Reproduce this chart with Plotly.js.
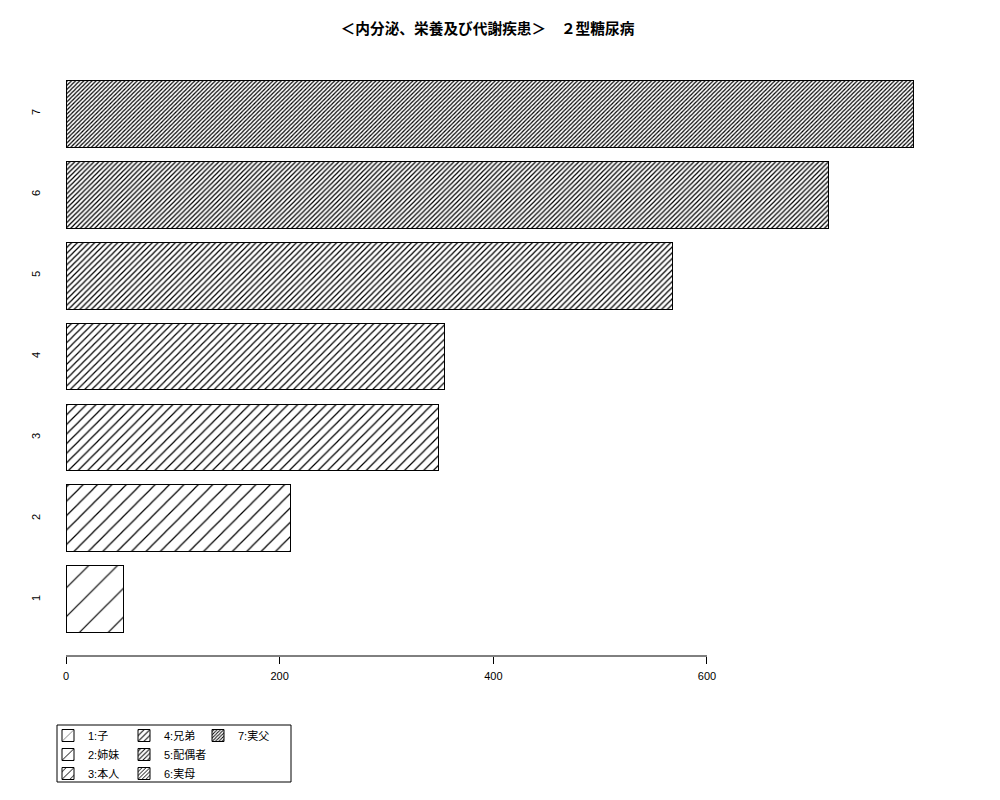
<!DOCTYPE html>
<html>
<head>
<meta charset="utf-8">
<script src="https://cdn.plot.ly/plotly-3.0.1.min.js"></script>
<style>
  body { margin: 0; background: #fff; }
  #chart { width: 1000px; height: 800px; }
</style>
</head>
<body>
<div id="chart"></div>
<script>
// data
const categories = ['1', '2', '3', '4', '5', '6', '7'];
const counts = [54, 210, 349, 354, 568, 714, 793];
const relationLabels = ['1:子', '2:姉妹', '3:本人', '4:兄弟', '5:配偶者', '6:実母', '7:実父'];
const xTicks = [0, 200, 400, 600];

// hatch density (lines per inch, like R's density=) -> tile size in px
const hatchDensity = [5, 10, 15, 20, 25, 30, 35];
const legendOf = ['legend', 'legend', 'legend', 'legend2', 'legend2', 'legend2', 'legend3'];

const baseFont = 'Liberation Sans, Arial, Noto Sans CJK JP, sans-serif';

var traces = [];
for (let i = 0; i < categories.length; ++i) {
    const tile = 72 / hatchDensity[i] * Math.SQRT2;
    traces.push({
        type: 'bar',
        orientation: 'h',
        x: [counts[i]],
        y: [categories[i]],
        name: relationLabels[i],
        legend: legendOf[i],
        marker: {
            color: 'white',
            line: { color: 'black', width: 1 },
            pattern: {
                shape: '/',
                size: tile,
                solidity: Math.min(1.2 / tile, 0.5),
                fgcolor: 'black',
                bgcolor: 'white'
            }
        },
        hoverinfo: 'x+name'
    });
}

// plot area in pixels, used to place the legend box
const plotL = 50, plotR = 946, plotT = 57, plotB = 656;
const px = (v) => (v - plotL) / (plotR - plotL);
const py = (v) => (plotB - v) / (plotB - plotT);

const legendStyle = (x) => ({
    x: px(x), xanchor: 'left',
    y: py(721), yanchor: 'top',
    orientation: 'v',
    traceorder: 'normal',
    bgcolor: 'rgba(0,0,0,0)',
    borderwidth: 0,
    font: { family: baseFont, size: 11, color: 'black' }
});

var layout = {
    width: 1000,
    height: 800,
    margin: { l: plotL, r: 1000 - plotR, t: plotT, b: 800 - plotB, autoexpand: false },
    paper_bgcolor: 'white',
    plot_bgcolor: 'white',
    barmode: 'stack',
    bargap: 0.173,
    showlegend: true,
    title: {
        text: '＜内分泌、栄養及び代謝疾患＞　２型糖尿病',
        font: { family: 'Noto Sans CJK JP, sans-serif', size: 14.7, color: 'black', weight: 'bold' },
        xref: 'container', x: 0.4875, xanchor: 'center',
        yref: 'container', y: 1 - 29 / 800, yanchor: 'middle'
    },
    xaxis: {
        range: [(plotL - 66) / 1.0683, (plotR - 66) / 1.0683],
        tickvals: xTicks,
        ticktext: xTicks.map(String),
        ticks: 'outside',
        ticklen: 7,
        tickwidth: 1,
        tickcolor: 'black',
        ticklabelstandoff: 3,
        showline: false,
        showgrid: false,
        zeroline: false,
        tickfont: { family: baseFont, size: 11, color: 'black' },
        fixedrange: true
    },
    yaxis: {
        type: 'category',
        categoryorder: 'array',
        categoryarray: categories,
        range: [-0.698, 6.698],
        ticks: '',
        showline: false,
        showgrid: false,
        zeroline: false,
        tickangle: -90,
        ticklabelstandoff: 7,
        tickfont: { family: baseFont, size: 11, color: 'black' },
        fixedrange: true
    },
    legend: legendStyle(48),
    legend2: legendStyle(124),
    legend3: legendStyle(198),
    shapes: [
        // R style axis line, only across the tick range
        { type: 'line', xref: 'x', yref: 'paper', x0: xTicks[0], x1: xTicks[xTicks.length - 1], y0: 0, y1: 0,
          line: { color: 'black', width: 1 } },
        // box round the legends
        { type: 'rect', xref: 'paper', yref: 'paper', x0: px(57), x1: px(291), y0: py(782), y1: py(725),
          line: { color: 'black', width: 1 }, fillcolor: 'rgba(0,0,0,0)', layer: 'below' }
    ]
};

Plotly.newPlot('chart', traces, layout, { displayModeBar: false, staticPlot: true });
</script>
</body>
</html>
